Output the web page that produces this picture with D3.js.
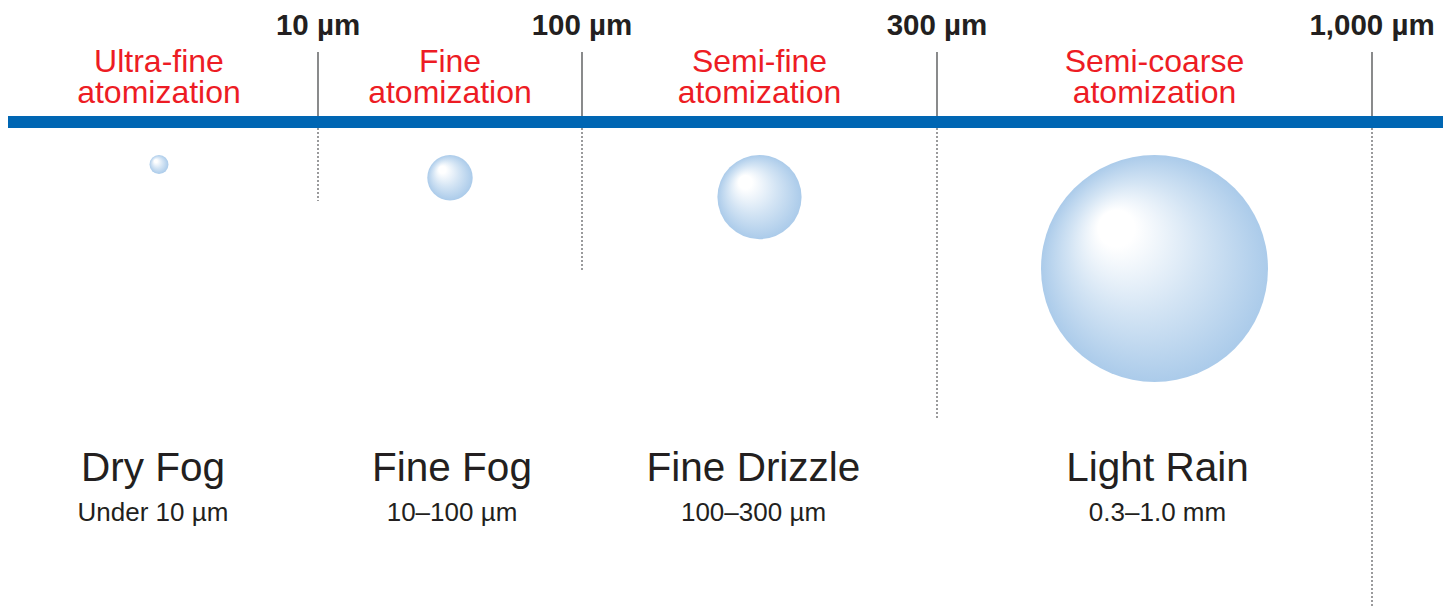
<!DOCTYPE html>
<html>
<head>
<meta charset="utf-8">
<script src="https://cdn.jsdelivr.net/npm/d3@7"></script>
<style>
  html, body { margin: 0; padding: 0; background: #fff; }
  svg { display: block; font-family: "Liberation Sans", Arial, Helvetica, sans-serif; }
</style>
</head>
<body>
<svg id="chart"></svg>
<script>
// boundaries between atomization classes (µm)
var boundaryValues = [10, 100, 300, 1000];
var boundaryLabels = ["10 µm", "100 µm", "300 µm", "1,000 µm"];

// one entry per class
var classNames = ["Ultra-fine", "Fine", "Semi-fine", "Semi-coarse"];
var sprayTypes = ["Dry Fog", "Fine Fog", "Fine Drizzle", "Light Rain"];
var sizeRanges = ["Under 10 µm", "10–100 µm", "100–300 µm", "0.3–1.0 mm"];
var classLow = [1, 10, 100, 300];
var classHigh = [10, 100, 300, 1000];
// relative droplet size used for the illustration
var dropSize = [1, 2.4, 4.45, 12];

var width = 1443, height = 607;

var svg = d3.select("svg#chart")
    .attr("width", width)
    .attr("height", height);

// the scale is not linear or log, each class gets its own stretch
var xScale = d3.scaleLinear()
    .domain([1, 10, 100, 300, 1000])
    .range([0, 318, 582, 937, 1372]);

var rScale = d3.scaleLinear()
    .domain([0, 12])
    .range([0, 113.5]);

var barX = 8, barY = 116, barH = 12, dropTop = 155;
// how far each dotted guide runs down
var guideEnd = [201, 270, 419, 607];
// small nudges of the bottom captions
var captionShift = [-6, 2, -6, 3];

// gradient for the droplets
var grad = svg.append("defs").append("radialGradient")
    .attr("id", "drop")
    .attr("cx", "50%").attr("cy", "50%").attr("r", "50%")
    .attr("fx", "30%").attr("fy", "29%");
grad.append("stop").attr("offset", "0%").attr("stop-color", "#ffffff");
grad.append("stop").attr("offset", "16%").attr("stop-color", "#ffffff");
grad.append("stop").attr("offset", "58%").attr("stop-color", "#d3e4f4");
grad.append("stop").attr("offset", "100%").attr("stop-color", "#abcbea");

var classes = classNames.map(function(name, i) {
  return {
    name: name,
    spray: sprayTypes[i],
    range: sizeRanges[i],
    size: dropSize[i],
    mid: (xScale(classLow[i]) + xScale(classHigh[i])) / 2,
    shift: captionShift[i]
  };
});

// guides: solid above the bar, dotted below
var guides = svg.append("g").selectAll("g")
    .data(boundaryValues)
  .enter().append("g");

guides.append("line")
    .attr("x1", function(d) { return xScale(d); })
    .attr("x2", function(d) { return xScale(d); })
    .attr("y1", 52)
    .attr("y2", barY)
    .attr("stroke", "#58595b")
    .attr("stroke-width", 1.4);

guides.append("line")
    .attr("x1", function(d) { return xScale(d); })
    .attr("x2", function(d) { return xScale(d); })
    .attr("y1", barY + barH)
    .attr("y2", function(d, i) { return guideEnd[i]; })
    .attr("stroke", "#58595b")
    .attr("stroke-width", 1.2)
    .attr("stroke-dasharray", "2,2");

guides.append("text")
    .attr("x", function(d) { return xScale(d); })
    .attr("y", 35)
    .attr("text-anchor", "middle")
    .attr("font-size", 29.5)
    .attr("font-weight", "bold")
    .attr("fill", "#231f20")
    .text(function(d, i) { return boundaryLabels[i]; });

// blue bar
svg.append("rect")
    .attr("x", barX)
    .attr("y", barY)
    .attr("width", width - barX)
    .attr("height", barH)
    .attr("fill", "#0066b3");

var cls = svg.append("g").selectAll("g")
    .data(classes)
  .enter().append("g");

// red class labels
var redLabel = cls.append("text")
    .attr("text-anchor", "middle")
    .attr("font-size", 32)
    .attr("fill", "#ed1c24");
redLabel.append("tspan")
    .attr("x", function(d) { return d.mid; })
    .attr("y", 72)
    .text(function(d) { return d.name; });
redLabel.append("tspan")
    .attr("x", function(d) { return d.mid; })
    .attr("y", 103)
    .text("atomization");

// droplets hang from the same top line
cls.append("circle")
    .attr("cx", function(d) { return d.mid; })
    .attr("cy", function(d) { return dropTop + rScale(d.size); })
    .attr("r", function(d) { return rScale(d.size); })
    .attr("fill", "url(#drop)");

cls.append("text")
    .attr("x", function(d) { return d.mid + d.shift; })
    .attr("y", 481)
    .attr("text-anchor", "middle")
    .attr("font-size", 40.5)
    .attr("fill", "#231f20")
    .text(function(d) { return d.spray; });

cls.append("text")
    .attr("x", function(d) { return d.mid + d.shift; })
    .attr("y", 521)
    .attr("text-anchor", "middle")
    .attr("font-size", 26)
    .attr("fill", "#231f20")
    .text(function(d) { return d.range; });
</script>
</body>
</html>
